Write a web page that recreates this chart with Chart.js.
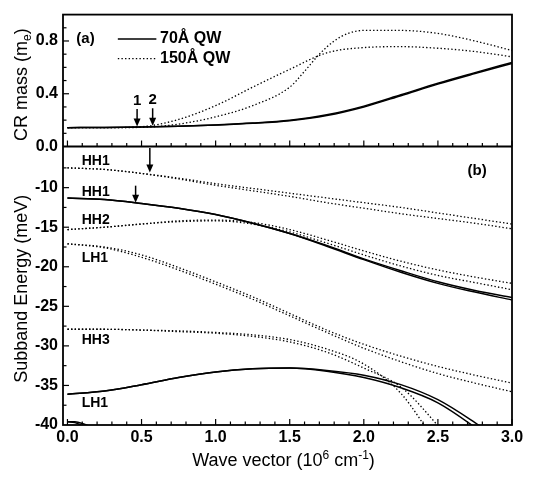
<!DOCTYPE html>
<html>
<head>
<meta charset="utf-8">
<script src="https://cdn.jsdelivr.net/npm/chart.js@4/dist/chart.umd.min.js"></script>
<style>
  html, body { margin: 0; padding: 0; background: #fff; }
  canvas { display: block; }
</style>
</head>
<body>
<canvas id="bands" width="533" height="481"></canvas>
<script>
// wave vector grids (10^6 cm^-1)
const kMain = [0, 0.25, 0.5, 0.75, 1.0, 1.25, 1.5, 1.75, 2.0, 2.25, 2.5, 2.75, 3.0];
const kSteep = [0, 0.25, 0.5, 0.75, 1.0, 1.25, 1.5, 1.6, 1.7, 1.8, 1.9, 2.0, 2.25, 2.5, 2.75, 3.0];
const kEdge = [0, 0.05, 0.1, 0.15, 0.2, 0.25];

// (a) CR mass (m_e)
const massNarrow1 = [0.143, 0.144, 0.147, 0.153, 0.163, 0.176, 0.196, 0.235, 0.300, 0.385, 0.473, 0.553, 0.630];
const massNarrow2 = [0.143, 0.144, 0.147, 0.153, 0.164, 0.178, 0.199, 0.240, 0.306, 0.392, 0.480, 0.560, 0.638];
const massWideA = [0.143, 0.143, 0.150, 0.205, 0.310, 0.450, 0.585, 0.710, 0.750, 0.757, 0.745, 0.720, 0.680];
const massWideB = [0.143, 0.143, 0.145, 0.170, 0.225, 0.310, 0.450, 0.570, 0.700, 0.800, 0.860, 0.880, 0.880, 0.857, 0.800, 0.728];

// (b) subband energy (meV), 150A QW (dotted)
const hh1Wide1 = [-7.5, -7.7, -8.2, -8.8, -9.5, -10.1, -10.7, -11.3, -11.9, -12.5, -13.2, -13.9, -14.6];
const hh1Wide2 = [-7.5, -7.7, -8.2, -8.9, -9.7, -10.4, -11.1, -11.9, -12.6, -13.3, -13.9, -14.5, -15.2];
const hh2Wide1 = [-15.3, -15.0, -14.6, -14.2, -14.1, -14.4, -15.3, -16.6, -18.0, -19.3, -20.4, -21.3, -22.1];
const hh2Wide2 = [-15.3, -15.0, -14.6, -14.3, -14.2, -14.6, -15.6, -17.0, -18.5, -19.9, -21.1, -22.0, -22.9];
const lh1Wide1 = [-17.1, -17.5, -18.5, -20.1, -21.9, -23.8, -25.9, -28.0, -29.8, -31.3, -32.6, -33.7, -34.7];
const lh1Wide2 = [-17.1, -17.6, -18.8, -20.4, -22.2, -24.1, -26.2, -28.3, -30.3, -32.0, -33.5, -34.7, -35.8];
const hh3Wide1 = [-27.9, -27.9, -28.0, -28.1, -28.3, -28.6, -29.2, -30.4, -32.3, -36.0, -42.5, -48.0, -54.0];
const hh3Wide2 = [-27.9, -27.9, -28.0, -28.2, -28.4, -28.8, -29.5, -30.8, -32.8, -35.2, -40.1, -46.0, -52.0];

// (b) 70A QW (solid)
const hh1Narrow1 = [-11.3, -11.5, -12.0, -12.6, -13.4, -14.5, -15.8, -17.3, -19.0, -20.5, -21.9, -23.0, -23.9];
const hh1Narrow2 = [-11.3, -11.5, -12.0, -12.6, -13.4, -14.5, -15.8, -17.4, -19.1, -20.7, -22.1, -23.2, -24.2];
const lh1Narrow1 = [-36.1, -35.7, -34.9, -34.0, -33.3, -32.9, -32.8, -33.2, -34.0, -35.3, -37.2, -40.3, -44.0];
const lh1Narrow2 = [-36.1, -35.7, -34.9, -34.0, -33.3, -32.9, -32.8, -33.1, -33.7, -34.9, -36.8, -39.7, -43.0];
const hh2Narrow1 = [-39.6, -39.6, -39.8, -40.2, -40.8, -41.5];
const hh2Narrow2 = [-39.6, -39.7, -40.1, -40.8, -41.6, -42.5];

// tick labels
const xTicks = [0, 0.5, 1.0, 1.5, 2.0, 2.5, 3.0];
const massTicks = [0, 0.4, 0.8];
const energyTicks = [-40, -35, -30, -25, -20, -15, -10];

// annotations
const bandLabels = [
  { text: 'HH1', k: 0.096, e: -6.7 },
  { text: 'HH1', k: 0.096, e: -10.6 },
  { text: 'HH2', k: 0.096, e: -14.1 },
  { text: 'LH1', k: 0.096, e: -18.9 },
  { text: 'HH3', k: 0.096, e: -29.3 },
  { text: 'LH1', k: 0.096, e: -37.3 }
];
const massArrows = [
  { k: 0.47, from: 0.285, to: 0.152, text: '1' },
  { k: 0.575, from: 0.29, to: 0.158, text: '2' }
];
const energyArrows = [
  { k: 0.556, from: -5.0, to: -8.1 },
  { k: 0.46, from: -9.75, to: -11.9 }
];

// axis titles, pieces: [text, size, baseline shift]
const xTitle = [['Wave vector (10', 18, 0], ['6', 12, -7], [' cm', 18, 0], ['-1', 12, -7], [')', 18, 0]];
const massTitle = [['CR mass (m', 18, 0], ['e', 12, 4], [')', 18, 0]];
const energyTitle = [['Subband Energy (meV)', 18, 0]];

const FONT = "'Liberation Sans', Arial, sans-serif";
Chart.defaults.font.family = FONT;
Chart.defaults.color = '#000';

function pts(ks, vs) { return ks.map((k, i) => ({ x: k, y: vs[i] })); }
function line(label, ks, vs, axis, dotted) {
  return {
    label: label,
    data: pts(ks, vs),
    yAxisID: axis,
    borderColor: '#000',
    borderWidth: dotted ? 1.3 : 1.5,
    borderDash: dotted ? [1.4, 2.2] : [],
    pointRadius: 0,
    cubicInterpolationMode: 'monotone',
    fill: false
  };
}

function richText(ctx, pieces, cx, cy, angle) {
  ctx.save();
  ctx.translate(cx, cy);
  ctx.rotate(angle);
  ctx.textBaseline = 'alphabetic';
  ctx.textAlign = 'left';
  let w = 0;
  pieces.forEach(p => { ctx.font = p[1] + 'px ' + FONT; w += ctx.measureText(p[0]).width; });
  let x = -w / 2;
  pieces.forEach(p => {
    ctx.font = p[1] + 'px ' + FONT;
    ctx.fillText(p[0], x, 6.5 + p[2]);
    x += ctx.measureText(p[0]).width;
  });
  ctx.restore();
}

const framePlugin = {
  id: 'frame',
  afterDatasetsDraw(chart) {
    const { ctx, chartArea: a, scales } = chart;
    const x = scales.x, yT = scales.yTop, yB = scales.yBot;
    ctx.save();
    ctx.strokeStyle = '#000';
    ctx.fillStyle = '#000';
    ctx.lineWidth = 1.8;
    ctx.strokeRect(a.left, a.top, a.right - a.left, a.bottom - a.top);
    ctx.beginPath(); ctx.moveTo(a.left, yT.bottom); ctx.lineTo(a.right, yT.bottom); ctx.stroke();

    // inward ticks
    ctx.lineWidth = 1.2;
    const seg = (x1, y1, x2, y2) => { ctx.beginPath(); ctx.moveTo(x1, y1); ctx.lineTo(x2, y2); ctx.stroke(); };
    for (let i = 0; i <= 30; i++) {
      const px = x.getPixelForValue(i / 10), len = i % 5 === 0 ? 6 : 3.5;
      seg(px, yB.bottom, px, yB.bottom - len);
      seg(px, yT.bottom, px, yT.bottom - len);
    }
    for (let i = 1; i <= 9; i++) {
      const py = yT.getPixelForValue(i / 10), len = i % 4 === 0 ? 6 : 3.5;
      seg(a.left, py, a.left + len, py);
    }
    for (let v = -37.5; v <= -7.5; v += 2.5) {
      const py = yB.getPixelForValue(v), len = v % 5 === 0 ? 6 : 3.5;
      seg(a.left, py, a.left + len, py);
    }

    // arrows
    const arrow = (px, pyFrom, pyTo) => {
      ctx.lineWidth = 1.5;
      seg(px, pyFrom, px, pyTo - 6);
      ctx.beginPath();
      ctx.moveTo(px - 3.5, pyTo - 8);
      ctx.lineTo(px + 3.5, pyTo - 8);
      ctx.lineTo(px, pyTo);
      ctx.closePath();
      ctx.fill();
    };
    ctx.font = 'bold 15px ' + FONT;
    ctx.textAlign = 'center';
    ctx.textBaseline = 'bottom';
    massArrows.forEach(r => {
      const px = x.getPixelForValue(r.k), top = yT.getPixelForValue(r.from);
      arrow(px, top, yT.getPixelForValue(r.to));
      ctx.fillText(r.text, px, top - 1);
    });
    energyArrows.forEach(r => {
      arrow(x.getPixelForValue(r.k), yB.getPixelForValue(r.from), yB.getPixelForValue(r.to));
    });

    // band names
    ctx.font = 'bold 14px ' + FONT;
    ctx.textAlign = 'left';
    ctx.textBaseline = 'middle';
    bandLabels.forEach(b => ctx.fillText(b.text, x.getPixelForValue(b.k), yB.getPixelForValue(b.e)));

    // panel letters
    ctx.font = 'bold 15px ' + FONT;
    ctx.fillText('(a)', x.getPixelForValue(0.06), yT.getPixelForValue(0.815));
    ctx.fillText('(b)', x.getPixelForValue(2.7), yB.getPixelForValue(-7.9));

    // legend
    const lx1 = x.getPixelForValue(0.34), lx2 = x.getPixelForValue(0.6), tx = x.getPixelForValue(0.625);
    const ly1 = yT.getPixelForValue(0.815), ly2 = yT.getPixelForValue(0.667);
    ctx.lineWidth = 1.5;
    seg(lx1, ly1, lx2, ly1);
    ctx.lineWidth = 1.3;
    ctx.setLineDash([1.4, 2.2]);
    seg(lx1, ly2, lx2, ly2);
    ctx.setLineDash([]);
    ctx.font = 'bold 16px ' + FONT;
    ctx.fillText('70Å QW', tx, ly1);
    ctx.fillText('150Å QW', tx, ly2);

    // axis titles
    richText(ctx, xTitle, (a.left + a.right) / 2 - 4, 459, 0);
    richText(ctx, massTitle, 20, (yT.top + yT.bottom) / 2 + 4, -Math.PI / 2);
    richText(ctx, energyTitle, 20, (yB.top + yB.bottom) / 2 + 3, -Math.PI / 2);
    ctx.restore();
  }
};

const tickFont = { size: 16, weight: 'bold' };

new Chart(document.getElementById('bands'), {
  type: 'line',
  data: {
    datasets: [
      line('70A mass 1', kMain, massNarrow1, 'yTop', false),
      line('70A mass 2', kMain, massNarrow2, 'yTop', false),
      line('150A mass A', kMain, massWideA, 'yTop', true),
      line('150A mass B', kSteep, massWideB, 'yTop', true),
      line('HH1 150A', kMain, hh1Wide1, 'yBot', true),
      line('HH1 150A', kMain, hh1Wide2, 'yBot', true),
      line('HH2 150A', kMain, hh2Wide1, 'yBot', true),
      line('HH2 150A', kMain, hh2Wide2, 'yBot', true),
      line('LH1 150A', kMain, lh1Wide1, 'yBot', true),
      line('LH1 150A', kMain, lh1Wide2, 'yBot', true),
      line('HH3 150A', kMain, hh3Wide1, 'yBot', true),
      line('HH3 150A', kMain, hh3Wide2, 'yBot', true),
      line('HH1 70A', kMain, hh1Narrow1, 'yBot', false),
      line('HH1 70A', kMain, hh1Narrow2, 'yBot', false),
      line('LH1 70A', kMain, lh1Narrow1, 'yBot', false),
      line('LH1 70A', kMain, lh1Narrow2, 'yBot', false),
      line('HH2 70A', kEdge, hh2Narrow1, 'yBot', false),
      line('HH2 70A', kEdge, hh2Narrow2, 'yBot', false)
    ]
  },
  options: {
    responsive: false,
    animation: false,
    events: [],
    layout: { padding: { top: 5, right: 21, left: 0, bottom: 0 } },
    plugins: { legend: { display: false }, tooltip: { enabled: false } },
    scales: {
      x: {
        type: 'linear',
        min: -0.03,
        max: 3.0,
        afterBuildTicks: s => { s.ticks = xTicks.map(v => ({ value: v })); },
        afterFit: s => { s.height = 56; },
        grid: { display: false, drawTicks: false },
        border: { display: false },
        ticks: { font: tickFont, padding: 3, maxRotation: 0, autoSkip: false, callback: v => v.toFixed(1) }
      },
      yBot: {
        type: 'linear',
        position: 'left',
        stack: 'panels',
        stackWeight: 285,
        min: -40,
        max: -4.8,
        afterBuildTicks: s => { s.ticks = energyTicks.map(v => ({ value: v })); },
        afterFit: s => { s.width = 63; },
        grid: { display: false, drawTicks: false },
        border: { display: false },
        ticks: { font: tickFont, padding: 5, callback: v => String(v) }
      },
      yTop: {
        type: 'linear',
        position: 'left',
        stack: 'panels',
        stackWeight: 135,
        min: 0,
        max: 1.0,
        afterBuildTicks: s => { s.ticks = massTicks.map(v => ({ value: v })); },
        afterFit: s => { s.width = 63; },
        grid: { display: false, drawTicks: false },
        border: { display: false },
        ticks: { font: tickFont, padding: 5, callback: v => v.toFixed(1) }
      }
    }
  },
  plugins: [framePlugin]
});
</script>
</body>
</html>
